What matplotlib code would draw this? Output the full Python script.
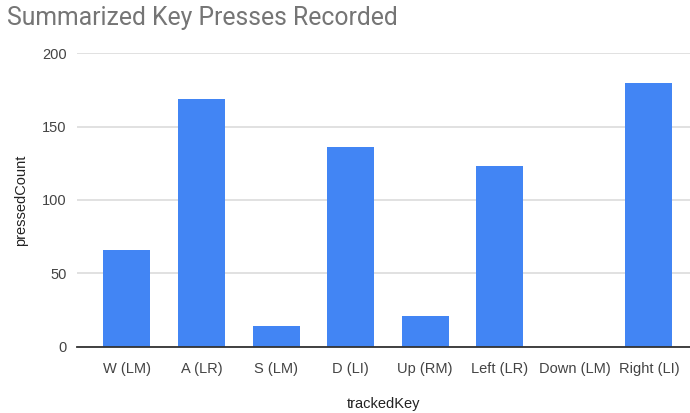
import matplotlib
matplotlib.use("Agg")
from matplotlib import pyplot as plt

keys = ["W (LM)", "A (LR)", "S (LM)", "D (LI)", "Up (RM)", "Left (LR)", "Down (LM)", "Right (LI)"]
counts = [66, 169, 14, 136, 21, 123, 0, 180]
y_ticks = [0, 50, 100, 150, 200]

bar_color = "#4285f4"
text_color = "#444444"

fig = plt.figure(figsize=(6.9, 4.13), dpi=100)
ax = fig.add_axes([0.111, 0.1605, 0.889, 0.7105])

x = list(range(len(keys)))
ax.bar(x, counts, width=0.63, color=bar_color, zorder=3)

ax.set_xlim(-0.674, 7.55)
ax.set_ylim(0, 200)
ax.set_yticks(y_ticks)
ax.set_xticks(x)
ax.set_xticklabels(keys)

ax.grid(axis="y", color="#d9d9d9", linewidth=1.1, zorder=0)
for side in ["top", "right", "left"]:
    ax.spines[side].set_visible(False)
ax.spines["bottom"].set_color("#333333")
ax.spines["bottom"].set_linewidth(1.3)
ax.spines["bottom"].set_zorder(4)

ax.tick_params(axis="both", length=0, labelsize=10.5, labelcolor=text_color)
for lbl in ax.get_xticklabels() + ax.get_yticklabels():
    lbl.set_family("Liberation Sans")
ax.tick_params(axis="y", pad=7)
ax.tick_params(axis="x", pad=11)

ax.set_ylabel("pressedCount", fontsize=10.5, color="#222222",
              family="Liberation Sans", labelpad=10)
ax.set_xlabel("trackedKey", fontsize=10.5, color="#222222",
              family="Liberation Sans", labelpad=15)

fig.text(0.01, 0.956, "Summarized Key Presses Recorded", fontsize=17.8,
         color="#757575", family="Roboto", va="center", ha="left")

fig.savefig("out.png", dpi=100)
